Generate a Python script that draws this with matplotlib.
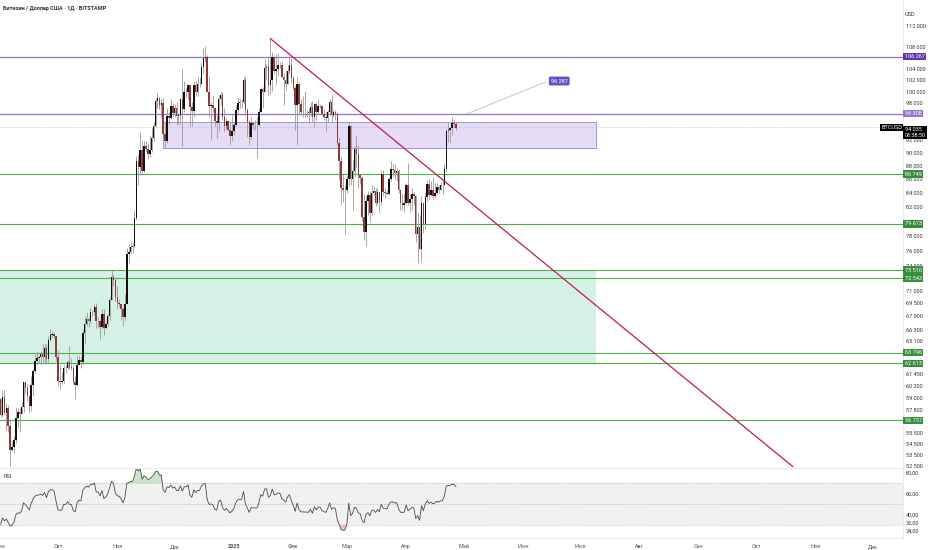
import numpy as np
import pandas as pd
import matplotlib
matplotlib.use('Agg')
import matplotlib.pyplot as plt
import matplotlib.dates as mdates
import matplotlib.transforms as mtrans
from matplotlib.patches import Rectangle
from matplotlib.ticker import FixedLocator, NullLocator

plt.rcParams['font.family'] = ['Roboto', 'DejaVu Sans']

############### DATA (BTCUSD daily, thousands USD) ###############
first_day = '2024-09-01'
first_open = 58.9

# august closes, only used to warm up the RSI (not drawn)
aug_close = [64.6, 61.4, 60.7, 58.1, 54.0, 56.0, 55.1, 61.7, 60.9, 60.9, 58.7, 59.3, 60.6, 58.7, 57.6, 58.9,
             59.5, 58.4, 59.5, 59.0, 61.2, 60.4, 64.1, 64.2, 64.2, 62.8, 59.4, 59.0, 59.4, 59.1, 58.9]

sep_close = [57.3, 59.1, 57.5, 58.0, 56.2, 53.9, 54.2, 54.9, 57.0, 57.6, 57.4, 58.1, 60.6, 60.0, 59.2,
             58.2, 60.3, 61.8, 62.9, 63.2, 63.3, 63.6, 63.3, 64.3, 63.1, 65.2, 65.8, 65.9, 65.6, 63.3]
sep_high = [59.0, 59.8, 59.8, 58.5, 58.3, 56.9, 54.8, 55.3, 58.1, 58.0, 58.0, 58.6, 60.6, 60.6, 60.4,
            59.2, 61.3, 62.0, 63.8, 64.0, 63.5, 64.0, 64.7, 64.7, 64.8, 65.7, 66.5, 66.2, 66.1, 65.6]
sep_low = [57.2, 57.1, 57.4, 55.7, 55.6, 52.5, 53.8, 53.7, 54.6, 56.0, 55.6, 57.4, 57.6, 59.5, 58.7,
           57.5, 57.7, 59.2, 61.6, 62.4, 62.7, 62.4, 62.7, 62.7, 62.6, 62.7, 65.1, 65.4, 65.4, 62.9]

oct_close = [60.8, 60.6, 60.7, 62.1, 62.1, 62.8, 62.2, 62.1, 60.6, 60.3, 62.4, 63.0, 62.8, 66.0, 67.0, 67.6,
             67.4, 68.4, 68.4, 69.0, 67.4, 67.4, 66.7, 68.2, 66.6, 67.0, 67.9, 69.9, 72.7, 72.3, 70.2]
oct_high = [64.1, 62.4, 61.7, 62.4, 62.4, 63.0, 64.5, 63.2, 62.5, 61.3, 63.4, 63.5, 63.3, 66.5, 67.9, 68.4,
            68.0, 68.9, 68.6, 69.4, 69.5, 67.8, 67.5, 68.8, 68.8, 67.4, 68.2, 70.2, 73.6, 72.9, 72.6]
oct_low = [60.2, 59.9, 60.4, 60.5, 61.6, 62.0, 62.0, 61.9, 60.4, 58.9, 60.2, 62.4, 62.1, 62.5, 64.9, 66.8,
           66.7, 67.1, 68.0, 68.1, 66.6, 66.6, 65.3, 66.5, 65.8, 66.5, 66.8, 67.5, 69.8, 71.5, 69.7]

nov_close = [69.5, 69.4, 68.8, 67.8, 69.4, 75.6, 75.9, 76.5, 76.7, 80.4, 88.7, 87.9, 90.5, 87.3, 91.1,
             90.6, 89.8, 90.5, 92.3, 94.3, 98.4, 98.9, 97.7, 98.0, 93.0, 91.9, 95.9, 95.6, 97.5, 96.4]
nov_high = [71.6, 70.0, 69.5, 69.0, 70.6, 76.4, 76.9, 77.2, 77.0, 81.5, 89.5, 89.9, 93.3, 91.8, 91.8,
            91.9, 91.6, 92.6, 94.0, 94.9, 99.0, 99.8, 98.8, 98.7, 98.9, 94.7, 97.3, 96.6, 98.7, 98.0]
nov_low = [68.8, 69.0, 67.5, 66.8, 67.5, 69.4, 74.4, 75.6, 75.7, 76.5, 80.2, 85.2, 86.7, 86.7, 87.1,
           90.1, 89.1, 89.4, 90.2, 91.8, 94.1, 97.2, 97.1, 95.8, 92.6, 90.8, 91.6, 94.6, 95.4, 95.7]

dec_close = [97.2, 95.9, 96.0, 98.8, 97.0, 99.9, 99.9, 101.2, 97.4, 96.7, 101.2, 100.0, 101.4, 101.4, 104.3, 106.0,
             106.1, 100.0, 97.5, 97.8, 97.3, 95.1, 94.7, 98.7, 99.4, 95.8, 94.2, 95.1, 93.7, 92.6, 93.4]
dec_high = [97.9, 98.2, 96.3, 99.0, 104.0, 101.9, 100.6, 101.4, 101.2, 98.3, 101.9, 102.0, 102.5, 102.6, 105.1, 107.8,
            108.3, 106.5, 102.8, 98.2, 99.5, 97.4, 96.4, 99.4, 99.9, 99.9, 97.3, 95.5, 95.2, 94.9, 96.1]
dec_low = [95.7, 94.5, 94.6, 94.6, 91.1, 96.6, 99.1, 98.7, 94.2, 94.3, 95.7, 99.3, 99.2, 100.8, 101.3, 103.3,
           105.3, 100.0, 95.7, 92.2, 96.5, 94.3, 92.4, 93.4, 97.7, 95.2, 93.4, 93.8, 93.4, 91.3, 91.9]

jan_close = [94.4, 96.9, 98.1, 98.2, 98.3, 102.1, 96.9, 95.0, 92.5, 94.7, 94.5, 94.5, 94.5, 96.5, 100.5, 99.9,
             104.1, 104.4, 101.1, 102.0, 106.1, 103.7, 104.0, 104.8, 104.7, 102.6, 102.1, 101.3, 103.7, 104.7, 102.4]
jan_high = [94.9, 97.8, 98.9, 98.7, 98.8, 102.5, 102.7, 97.2, 95.3, 95.8, 94.9, 95.3, 95.8, 97.3, 100.7, 100.8,
            105.9, 104.9, 106.3, 109.6, 107.1, 106.3, 106.8, 107.0, 105.3, 105.5, 103.2, 103.8, 104.7, 106.4, 106.0]
jan_low = [92.8, 94.2, 96.1, 97.3, 97.2, 97.9, 96.1, 92.5, 91.2, 92.2, 93.8, 93.7, 89.2, 94.3, 96.5, 97.3,
           99.9, 102.3, 99.5, 99.6, 100.1, 103.2, 101.2, 102.8, 104.1, 102.5, 97.8, 100.3, 101.3, 103.3, 101.5]

feb_close = [100.6, 97.7, 101.4, 97.9, 96.6, 96.6, 96.5, 96.5, 96.4, 97.4, 95.7, 97.9, 96.6, 97.5,
             97.6, 96.2, 95.8, 95.5, 96.6, 98.3, 96.1, 96.6, 96.3, 91.6, 88.7, 84.7, 84.4, 84.4]
feb_high = [102.8, 101.0, 102.5, 101.7, 98.8, 99.2, 100.2, 96.9, 97.3, 98.3, 98.5, 98.1, 98.2, 98.8,
            97.9, 97.7, 97.0, 96.7, 96.9, 98.8, 99.5, 96.9, 96.9, 96.5, 92.5, 89.3, 87.0, 85.1]
feb_low = [100.3, 93.7, 91.2, 96.1, 96.2, 95.7, 95.7, 95.8, 94.7, 95.9, 94.9, 94.1, 95.3, 96.4,
           97.2, 96.1, 95.2, 93.5, 95.0, 96.1, 95.0, 95.8, 95.2, 91.2, 86.1, 82.3, 82.7, 78.2]

mar_close = [86.0, 94.2, 86.1, 87.2, 90.6, 89.9, 86.7, 86.2, 80.6, 78.5, 82.9, 83.7, 81.1, 84.0, 84.3, 82.6,
             84.1, 82.7, 86.8, 84.2, 84.0, 83.8, 86.1, 87.5, 87.4, 86.9, 87.2, 84.4, 82.6, 82.3, 82.5]
mar_high = [86.6, 95.0, 94.4, 88.9, 91.0, 92.8, 91.2, 87.0, 86.5, 83.9, 83.6, 84.3, 84.3, 85.2, 85.0, 84.7,
            84.7, 84.1, 87.4, 87.4, 84.8, 84.5, 86.3, 88.7, 88.5, 88.3, 87.7, 87.5, 84.6, 83.9, 83.9]
mar_low = [84.0, 85.0, 85.1, 81.6, 86.4, 87.8, 84.7, 85.3, 80.0, 77.4, 76.6, 80.8, 79.9, 80.8, 83.7, 82.2,
           82.4, 81.2, 82.3, 83.6, 83.2, 83.7, 83.7, 85.8, 86.3, 85.9, 85.8, 84.0, 81.6, 81.5, 81.3]

apr_close = [85.2, 82.5, 83.1, 83.8, 83.5, 78.2, 79.2, 76.3, 82.6, 79.6, 83.4, 85.3, 83.7, 84.5,
             83.6, 84.0, 84.9, 84.5, 85.1, 85.2, 87.5, 93.4, 93.7, 93.9, 94.7, 94.6, 94.0]
apr_high = [85.5, 88.5, 83.9, 84.7, 84.2, 83.7, 81.2, 80.8, 83.6, 82.7, 84.2, 85.9, 86.0, 85.8,
            86.4, 85.4, 85.4, 85.1, 85.6, 86.0, 88.5, 93.8, 94.7, 94.0, 95.8, 95.3, 94.9]
apr_low = [82.4, 82.3, 81.3, 81.6, 82.3, 77.2, 74.5, 76.2, 74.6, 78.4, 78.9, 82.9, 83.1, 83.6,
           83.1, 83.2, 83.9, 84.0, 84.4, 83.9, 85.1, 87.1, 91.7, 91.6, 92.9, 93.9, 93.7]

# levels / annotations
purple_levels = [106267, 96308]
purple_colors = ['#5e35b1', '#9575cd']
green_levels = [86749, 79673, 73510, 72543, 63796, 62613, 56757]
last_price = 94035
last_countdown = '08:38:50'
target_label = '96 287'
purple_zone = (90700, 95000, '2024-11-25', '2025-07-09')
green_zone = (62613, 73510, '2024-08-20', '2025-07-09')
trend_start = ('2025-01-20', 109600)
trend_end = ('2025-10-20', 52430)
callout_start = ('2025-05-03', 96308)
callout_end = ('2025-06-13', 101700)
callout_label_pos = ('2025-06-20', 101870)

price_ticks = [112000, 108000, 104000, 102000, 100000, 98000, 92000, 90000, 88000, 86000, 84000,
               82000, 78000, 76000, 74000, 71000, 69500, 67900, 66300, 65100, 61450, 60200,
               59000, 57800, 55500, 54500, 53500, 52500]
rsi_ticks = [80, 60, 40, 32, 24]
month_starts = ['2024-09-01', '2024-10-01', '2024-11-01', '2024-12-01', '2025-01-01', '2025-02-01',
                '2025-03-01', '2025-04-01', '2025-05-01', '2025-06-01', '2025-07-01', '2025-08-01',
                '2025-09-01', '2025-10-01', '2025-11-01', '2025-12-01']
month_labels = ['Сен', 'Окт', 'Ноя', 'Дек', '2025', 'Фев', 'Мар', 'Апр', 'Май', 'Июн', 'Июл', 'Авг',
                'Сен', 'Окт', 'Ноя', 'Дек']

############### BUILD DATAFRAME ###############
close = np.array(sep_close + oct_close + nov_close + dec_close + jan_close + feb_close + mar_close + apr_close) * 1000
high = np.array(sep_high + oct_high + nov_high + dec_high + jan_high + feb_high + mar_high + apr_high) * 1000
low = np.array(sep_low + oct_low + nov_low + dec_low + jan_low + feb_low + mar_low + apr_low) * 1000
opn = np.concatenate([[first_open * 1000], close[:-1]])
high = np.maximum(high, np.maximum(opn, close))
low = np.minimum(low, np.minimum(opn, close))
dates = pd.date_range(first_day, periods=len(close), freq='D')
x = mdates.date2num(dates)

# RSI 14 (Wilder)
all_close = pd.Series(np.concatenate([np.array(aug_close) * 1000, close]))
delta = all_close.diff()
gain = delta.clip(lower=0).ewm(alpha=1 / 14, adjust=False).mean()
loss = (-delta.clip(upper=0)).ewm(alpha=1 / 14, adjust=False).mean()
rsi = (100 - 100 / (1 + gain / loss)).values[len(aug_close):]

def d(s):
    return mdates.date2num(pd.Timestamp(s))

############### FIGURE ###############
W, H = 932, 550
fig = plt.figure(figsize=(W / 100, H / 100), dpi=100, facecolor='white')
ax = fig.add_axes([0, 1 - 468 / H, 903 / W, 468 / H])
ax_rsi = fig.add_axes([0, 1 - 538 / H, 903 / W, 69 / H], sharex=ax)

txt = '#333333'
fs = 4

# zones
lo, hi, a, b = purple_zone
ax.add_patch(Rectangle((d(a), lo), d(b) - d(a), hi - lo, facecolor='#e4ddf5', edgecolor='#a491dc',
                       lw=0.7, zorder=1))
lo, hi, a, b = green_zone
ax.add_patch(Rectangle((d(a), lo), d(b) - d(a), hi - lo, facecolor='#d5f1e6', edgecolor='none', zorder=1))

# levels
for lv, c in zip(purple_levels, purple_colors):
    ax.axhline(lv, color='#8e72d0', lw=0.9, zorder=2)
for lv in green_levels:
    ax.axhline(lv, color='#4caf50', lw=0.8, zorder=2)
ax.axhline(last_price, color='#bdbdbd', lw=0.5, ls=(0, (1, 1)), zorder=2)

# candles
up = close >= opn
ax.vlines(x, low, high, color='#9a9a9a', lw=0.6, zorder=3)
ax.bar(x[up], close[up] - opn[up], bottom=opn[up], width=0.78, color='#111111', lw=0, zorder=4)
ax.bar(x[~up], opn[~up] - close[~up], bottom=close[~up], width=0.78, color='#8e3a3a', lw=0, zorder=4)

# trend line and callout
ax.plot([d(trend_start[0]), d(trend_end[0])], [trend_start[1], trend_end[1]], color='#c2185b', lw=0.9, zorder=5)
ax.plot([d(callout_start[0]), d(callout_end[0])], [callout_start[1], callout_end[1]], color='#b0b0b0',
        lw=0.5, zorder=5)
ax.text(d(callout_label_pos[0]), callout_label_pos[1], target_label, color='white', fontsize=fs,
        ha='center', va='center', zorder=6,
        bbox=dict(boxstyle='round,pad=0.35,rounding_size=0.3', fc='#6a4fc2', ec='none'))

ax.set_yscale('log')
ax.set_ylim(52290, 117135)
ax.set_xlim(d(first_day) - 0.3, d('2025-12-16') + 0.7)

ax.yaxis.tick_right()
ax.yaxis.set_major_locator(FixedLocator(price_ticks))
ax.yaxis.set_minor_locator(NullLocator())
ax.set_yticklabels([f'{v:,}'.replace(',', ' ') for v in price_ticks])
ax.tick_params(axis='y', length=0, pad=2, labelsize=fs, labelcolor=txt)
ax.tick_params(axis='x', length=0, labelbottom=False)
for s in ['top', 'left']:
    ax.spines[s].set_visible(False)
ax.spines['right'].set_color('#e6e6e6')
ax.spines['bottom'].set_color('#e6e6e6')
ax.spines['right'].set_linewidth(0.6)
ax.spines['bottom'].set_linewidth(0.6)

# axis labels for levels
yax = mtrans.blended_transform_factory(ax.transAxes, ax.transData)
for lv, c in zip(purple_levels, purple_colors):
    ax.text(1.002, lv, f'{lv:,}'.replace(',', ' '), transform=yax, color='white', fontsize=fs,
            ha='left', va='center', clip_on=False, zorder=6,
            bbox=dict(boxstyle='square,pad=0.25', fc=c, ec='none'))
for lv in green_levels:
    ax.text(1.002, lv, f'{lv:,}'.replace(',', ' '), transform=yax, color='white', fontsize=fs,
            ha='left', va='center', clip_on=False, zorder=6,
            bbox=dict(boxstyle='square,pad=0.25', fc='#388e3c', ec='none'))
ax.text(1.002, last_price, f'{last_price:,}'.replace(',', ' ') + '\n' + last_countdown, transform=yax,
        color='white', fontsize=fs, ha='left', va='top', clip_on=False, zorder=7, linespacing=1.1,
        bbox=dict(boxstyle='square,pad=0.25', fc='#000000', ec='none'))
ax.text(0.999, last_price, 'BTCUSD', transform=yax, color='white', fontsize=fs, ha='right', va='center',
        zorder=7, bbox=dict(boxstyle='square,pad=0.25', fc='#000000', ec='none'))

fig.text(3 / W, 1 - 8 / H, 'Биткоин / Доллар США · 1Д · BITSTAMP', fontsize=fs, color=txt,
         fontweight='bold', ha='left', va='center')
fig.text(905 / W, 1 - 14 / H, 'USD', fontsize=fs, color=txt, ha='left', va='center')

############### RSI PANEL ###############
ax_rsi.axhspan(30, 70, color='#f1f1f1', lw=0, zorder=0)
for lv in [70, 50, 30]:
    ax_rsi.axhline(lv, color='#b5b5b5', lw=0.5, ls=(0, (2, 2)), zorder=1)
ax_rsi.fill_between(x, rsi, 70, where=rsi > 70, interpolate=True, color='#a5d6a7', alpha=0.6, lw=0, zorder=2)
ax_rsi.fill_between(x, rsi, 30, where=rsi < 30, interpolate=True, color='#ef9a9a', alpha=0.6, lw=0, zorder=2)
ax_rsi.plot(x, rsi, color='#4a4a4a', lw=0.6, zorder=3)
ax_rsi.set_ylim(17.3, 83.7)
ax_rsi.yaxis.tick_right()
ax_rsi.yaxis.set_major_locator(FixedLocator(rsi_ticks))
ax_rsi.set_yticklabels([f'{v},00' for v in rsi_ticks])
ax_rsi.tick_params(axis='y', length=0, pad=2, labelsize=fs, labelcolor=txt)
ax_rsi.text(4 / 903, 0.93, 'RSI', transform=ax_rsi.transAxes, fontsize=fs, color=txt,
            ha='left', va='top')

ax_rsi.xaxis.set_major_locator(FixedLocator([d(m) for m in month_starts]))
ax_rsi.set_xticklabels(month_labels)
ax_rsi.tick_params(axis='x', length=0, pad=4, labelsize=fs, labelcolor='#555555')
for lbl in ax_rsi.get_xticklabels():
    if lbl.get_text() == '2025':
        lbl.set_fontweight('bold')
for s in ['top', 'left']:
    ax_rsi.spines[s].set_visible(False)
ax_rsi.spines['right'].set_color('#e6e6e6')
ax_rsi.spines['bottom'].set_color('#e6e6e6')
ax_rsi.spines['right'].set_linewidth(0.6)
ax_rsi.spines['bottom'].set_linewidth(0.6)

fig.savefig('out.png', dpi=100, facecolor='white')
